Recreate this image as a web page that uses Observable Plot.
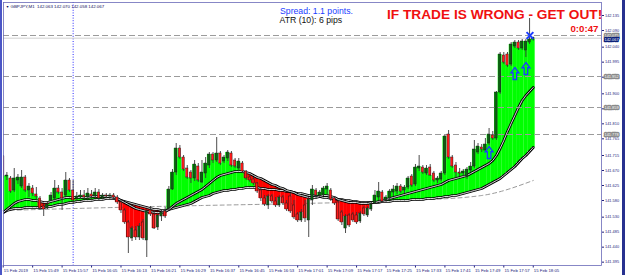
<!DOCTYPE html>
<html><head><meta charset="utf-8">
<script src="https://cdn.jsdelivr.net/npm/d3@7"></script>
<script src="https://cdn.jsdelivr.net/npm/@observablehq/plot@0.6"></script>
<style>
html,body{margin:0;padding:0;background:#fff;}
#wrap{position:relative;width:625px;height:275px;overflow:hidden;font-family:"Liberation Sans",Arial,sans-serif;}
#wrap svg{display:block;}
.bl{position:absolute;left:0;top:0;width:2px;height:275px;background:#4b56c6;}
.br{position:absolute;right:0;top:0;width:3px;height:275px;background:#27318f;}
</style></head><body><div id="wrap"><div class="bl"></div><div class="br"></div></div>
<script>
// ---- data (GBPJPY M1, 15 Feb 2019, 15:41 .. 18:05) ----
const opens = [
141.712,141.652,141.646,141.610,141.640,141.622,141.649,141.610,141.616,141.598,
141.586,141.562,141.556,141.580,141.586,141.616,141.604,141.595,141.640,141.610,
141.586,141.589,141.595,141.589,141.598,141.592,141.604,141.589,141.595,141.592,
141.595,141.589,141.574,141.550,141.514,141.466,141.490,141.469,141.514,141.460,
141.550,141.538,141.499,141.532,141.547,141.556,141.613,141.664,141.736,141.709,
141.676,141.664,141.646,141.682,141.634,141.661,141.685,141.718,141.700,141.721,
141.697,141.706,141.721,141.700,141.676,141.691,141.667,141.649,141.643,141.631,
141.610,141.586,141.565,141.592,141.577,141.565,141.589,141.571,141.592,141.565,
141.538,141.520,141.565,141.520,141.580,141.610,141.595,141.598,141.613,141.610,
141.586,141.574,141.544,141.496,141.535,141.538,141.535,141.517,141.556,141.535,
141.553,141.571,141.589,141.604,141.580,141.586,141.604,141.607,141.622,141.610,
141.619,141.652,141.628,141.676,141.679,141.661,141.679,141.661,141.640,141.643,
141.661,141.778,141.709,141.685,141.664,141.661,141.652,141.670,141.682,141.724,
141.739,141.730,141.751,141.775,141.766,141.904,142.015,142.018,141.988,142.042,
142.054,142.036,142.030,142.054,142.063];
const highs = [
141.715,141.664,141.652,141.676,141.658,141.670,141.655,141.631,141.625,141.619,
141.592,141.568,141.577,141.604,141.640,141.625,141.616,141.664,141.646,141.640,
141.604,141.610,141.610,141.616,141.610,141.616,141.613,141.601,141.601,141.601,
141.601,141.595,141.580,141.556,141.520,141.502,141.502,141.511,141.523,141.553,
141.562,141.550,141.541,141.553,141.559,141.622,141.673,141.751,141.745,141.715,
141.685,141.670,141.700,141.691,141.700,141.709,141.724,141.724,141.769,141.727,
141.715,141.730,141.727,141.706,141.706,141.697,141.670,141.658,141.649,141.634,
141.619,141.595,141.598,141.598,141.589,141.595,141.595,141.580,141.601,141.580,
141.544,141.553,141.580,141.589,141.625,141.616,141.610,141.622,141.631,141.616,
141.592,141.580,141.550,141.538,141.541,141.544,141.544,141.547,141.562,141.562,
141.574,141.610,141.634,141.610,141.595,141.613,141.625,141.631,141.628,141.625,
141.652,141.658,141.688,141.715,141.685,141.685,141.688,141.667,141.652,141.667,
141.775,141.790,141.715,141.694,141.676,141.673,141.679,141.694,141.760,141.751,
141.748,141.766,141.796,141.787,141.907,142.024,142.024,142.024,142.054,142.060,
142.060,142.063,142.063,142.126,142.070];
const lows = [
141.646,141.640,141.601,141.604,141.628,141.616,141.604,141.589,141.592,141.580,
141.550,141.532,141.553,141.577,141.580,141.598,141.550,141.592,141.604,141.568,
141.577,141.583,141.583,141.583,141.580,141.586,141.580,141.583,141.586,141.583,
141.583,141.568,141.541,141.508,141.421,141.457,141.460,141.460,141.460,141.409,
141.532,141.493,141.490,141.517,141.526,141.550,141.610,141.655,141.703,141.667,
141.643,141.631,141.637,141.634,141.631,141.646,141.676,141.691,141.694,141.685,
141.691,141.697,141.679,141.676,141.667,141.661,141.640,141.634,141.625,141.601,
141.577,141.562,141.553,141.571,141.559,141.559,141.565,141.547,141.541,141.523,
141.514,141.514,141.514,141.469,141.565,141.586,141.589,141.592,141.595,141.577,
141.565,141.517,141.505,141.481,141.499,141.514,141.508,141.511,141.532,141.529,
141.547,141.568,141.580,141.571,141.571,141.580,141.592,141.598,141.601,141.601,
141.613,141.619,141.622,141.667,141.658,141.655,141.652,141.634,141.631,141.637,
141.655,141.703,141.676,141.649,141.652,141.652,141.643,141.664,141.676,141.718,
141.724,141.724,141.745,141.760,141.760,141.898,141.988,141.979,141.982,142.036,
142.030,142.030,142.009,142.048,142.058];
const closes = [
141.652,141.655,141.607,141.646,141.649,141.649,141.610,141.622,141.601,141.592,
141.556,141.553,141.568,141.595,141.616,141.604,141.586,141.640,141.610,141.580,
141.592,141.595,141.589,141.601,141.592,141.604,141.586,141.595,141.592,141.595,
141.589,141.574,141.550,141.514,141.469,141.496,141.469,141.502,141.466,141.547,
141.538,141.496,141.535,141.544,141.532,141.613,141.664,141.736,141.709,141.673,
141.649,141.646,141.688,141.640,141.664,141.691,141.718,141.700,141.721,141.691,
141.709,141.724,141.685,141.682,141.697,141.667,141.646,141.640,141.631,141.607,
141.586,141.568,141.592,141.577,141.565,141.589,141.571,141.553,141.547,141.529,
141.520,141.544,141.526,141.583,141.613,141.595,141.604,141.616,141.622,141.583,
141.571,141.523,141.514,141.532,141.505,141.520,141.514,141.541,141.538,141.556,
141.568,141.595,141.607,141.577,141.589,141.607,141.613,141.622,141.607,141.619,
141.646,141.625,141.679,141.682,141.664,141.676,141.655,141.640,141.646,141.661,
141.772,141.709,141.682,141.664,141.661,141.667,141.673,141.682,141.733,141.742,
141.733,141.748,141.778,141.766,141.904,142.018,141.994,141.985,142.048,142.054,
142.036,142.057,142.057,142.063,142.067];
const fastMA = [
141.544,141.553,141.562,141.571,141.577,141.580,141.583,141.583,141.580,141.580,
141.577,141.574,141.574,141.577,141.580,141.583,141.586,141.589,141.589,141.589,
141.589,141.589,141.589,141.589,141.592,141.592,141.592,141.592,141.592,141.592,
141.589,141.586,141.580,141.574,141.568,141.562,141.556,141.553,141.550,141.547,
141.547,141.544,141.544,141.544,141.547,141.553,141.562,141.571,141.577,141.583,
141.589,141.595,141.601,141.607,141.613,141.622,141.631,141.640,141.649,141.655,
141.658,141.661,141.664,141.667,141.667,141.667,141.664,141.661,141.655,141.649,
141.646,141.640,141.634,141.628,141.625,141.619,141.616,141.610,141.607,141.604,
141.598,141.595,141.592,141.589,141.589,141.589,141.592,141.595,141.595,141.592,
141.589,141.583,141.580,141.577,141.574,141.574,141.574,141.571,141.571,141.571,
141.574,141.574,141.577,141.580,141.583,141.586,141.589,141.592,141.595,141.598,
141.601,141.604,141.607,141.610,141.613,141.616,141.619,141.622,141.625,141.628,
141.634,141.640,141.643,141.646,141.649,141.652,141.655,141.661,141.667,141.673,
141.679,141.685,141.691,141.700,141.715,141.736,141.760,141.787,141.811,141.835,
141.859,141.880,141.895,141.907,141.919];
const slowMA = [
141.544,141.550,141.553,141.556,141.556,141.556,141.559,141.559,141.559,141.559,
141.559,141.559,141.562,141.562,141.565,141.568,141.568,141.571,141.574,141.574,
141.577,141.577,141.580,141.580,141.580,141.583,141.583,141.583,141.586,141.586,
141.586,141.583,141.580,141.577,141.574,141.571,141.568,141.565,141.562,141.559,
141.556,141.553,141.553,141.550,141.550,141.553,141.556,141.559,141.562,141.565,
141.568,141.571,141.577,141.583,141.589,141.592,141.595,141.601,141.604,141.607,
141.610,141.610,141.613,141.613,141.616,141.616,141.619,141.619,141.619,141.619,
141.616,141.616,141.613,141.613,141.613,141.610,141.610,141.607,141.607,141.604,
141.601,141.601,141.598,141.595,141.595,141.592,141.592,141.589,141.589,141.586,
141.586,141.583,141.583,141.580,141.580,141.577,141.577,141.574,141.574,141.574,
141.574,141.574,141.574,141.577,141.577,141.577,141.580,141.580,141.580,141.580,
141.580,141.583,141.583,141.583,141.583,141.586,141.586,141.586,141.589,141.589,
141.592,141.592,141.595,141.595,141.598,141.601,141.604,141.607,141.610,141.613,
141.616,141.622,141.628,141.634,141.640,141.646,141.655,141.664,141.673,141.682,
141.694,141.706,141.715,141.727,141.739];
const longMABars = [0, 30, 54, 81, 110, 130, 144];
const longMAValues = [141.550, 141.559, 141.565, 141.571, 141.580, 141.595, 141.640];
const levels = [142.075, 141.952, 141.859, 141.778];
const bid = [142.067];
const crossBar = [19];
const arrowBars = [132, 139, 142];
const arrowPrices = [141.724, 141.961, 141.976];
const exitBar = [143.1];
const exitPrice = [142.075];
const priceTicks = [142.135,142.090,142.040,141.995,141.950,141.900,141.855,141.810,141.765,141.715,141.670,141.625,141.580,141.530,141.485,141.440,141.395];
const timeTickBars = [0,8,16,24,32,40,48,56,64,72,80,88,96,104,112,120,128,136,144];
const timeTickLabels = ["15 Feb 2019","15 Feb 15:49","15 Feb 15:57","15 Feb 16:05","15 Feb 16:13","15 Feb 16:21","15 Feb 16:29","15 Feb 16:37","15 Feb 16:45","15 Feb 16:53","15 Feb 17:01","15 Feb 17:09","15 Feb 17:17","15 Feb 17:25","15 Feb 17:33","15 Feb 17:41","15 Feb 17:49","15 Feb 17:57","15 Feb 18:05"];
const headerText = "GBPJPY,M1  142.063 142.070 142.058 142.067";
const spreadText = "Spread: 1.1 points.";
const atrText = "ATR (10): 6 pips";
const warnText = "IF TRADE IS WRONG - GET OUT!";
const timerText = "0:0:47";

// ---- build ----
const bars = opens.map((o, i) => ({i, open: o, high: highs[i], low: lows[i], close: closes[i], fast: fastMA[i], slow: slowMA[i]}));
const longMA = longMABars.map((b, k) => ({b, v: longMAValues[k]}));
const arrows = arrowBars.map((b, k) => ({b, p: arrowPrices[k]}));
const exits = exitBar.map((b, k) => ({b, p: exitPrice[k]}));
const GREEN = "#00ff00", RED = "#ff0000";
const fmt3 = d3.format(".3f");
const arrowUp = {draw(ctx, size) {
  const s = Math.sqrt(size / Math.PI);
  ctx.moveTo(0, -1.2 * s); ctx.lineTo(0.8 * s, -0.15 * s); ctx.lineTo(0.36 * s, -0.15 * s);
  ctx.lineTo(0.36 * s, 1.2 * s); ctx.lineTo(-0.36 * s, 1.2 * s); ctx.lineTo(-0.36 * s, -0.15 * s);
  ctx.lineTo(-0.8 * s, -0.15 * s); ctx.closePath();
}};
const NAVY = "#22227a";

const chart = Plot.plot({
  width: 625, height: 275,
  marginLeft: 3, marginRight: 24, marginTop: 2, marginBottom: 10,
  style: {fontFamily: "'Liberation Sans', Arial, sans-serif", fontSize: "3.9px", color: NAVY, background: "transparent"},
  color: {type: "identity"},
  x: {domain: [0.08, 162.54], axis: "bottom", ticks: timeTickBars, tickFormat: () => "", tickSize: 2.5, label: null},
  y: {domain: [141.385, 142.174], axis: "right", ticks: priceTicks, tickFormat: fmt3, tickSize: 2, tickPadding: 1.5, label: null},
  marks: [
    Plot.ruleX(crossBar, {x: d => d, stroke: "#2a2aff", strokeWidth: 1, strokeDasharray: "1,1.6"}),
    Plot.line(longMA, {x: "b", y: "v", stroke: "#9a9a9a", strokeWidth: 1, strokeDasharray: "4,3", curve: "monotone-x"}),
    Plot.rect(bars, {x1: d => d.i - 0.52, x2: d => d.i + 0.52, y1: "fast", y2: "slow", fill: d => d.fast >= d.slow ? GREEN : RED, clip: true}),
    Plot.rect(bars, {x1: d => d.i - 0.52, x2: d => d.i + 0.52, y1: "close", y2: "fast", fill: d => d.close >= d.fast ? GREEN : RED, clip: true}),
    Plot.line(bars, {x: "i", y: "slow", stroke: "#000", strokeWidth: 2.7, clip: true}),
    Plot.line(bars, {x: "i", y: "slow", stroke: "#eeeeee", strokeWidth: 0.9, clip: true}),
    Plot.line(bars, {x: "i", y: "fast", stroke: "#000", strokeWidth: 2.7, clip: true}),
    Plot.line(bars, {x: "i", y: "fast", stroke: "#eeeeee", strokeWidth: 0.9, clip: true}),
    Plot.ruleY(levels, {y: d => d, stroke: "#9b9b9b", strokeWidth: 1.1, strokeDasharray: "6,3"}),
    Plot.ruleY(bid, {y: d => d, stroke: "#cfcfcf", strokeWidth: 1}),
    Plot.ruleX(bars, {x: "i", y1: "low", y2: "high", stroke: "#3a3a3a", strokeWidth: 0.9, clip: true}),
    Plot.rect(bars, {x1: d => d.i - 0.32, x2: d => d.i + 0.32, y1: "open", y2: "close", fill: d => d.close >= d.open ? "#0e5e14" : "#ff1a1a", stroke: "#1a1a1a", strokeWidth: 0.45, clip: true}),
    Plot.dot(arrows, {x: "b", y: "p", symbol: arrowUp, r: 5, stroke: "#1c3cff", strokeWidth: 1.3, fill: "none"}),
    Plot.dot(exits, {x: "b", y: "p", symbol: "times", r: 3.2, stroke: "#1c3cff", strokeWidth: 2}),
    Plot.frame({stroke: "#6a6ab8", strokeWidth: 0.8}),
    // header texts
    Plot.text(["\u25BC"], {frameAnchor: "top-left", dx: 2.3, dy: 5.4, lineAnchor: "bottom", textAnchor: "start", fontSize: 3.6, fill: "#10105a"}),
    Plot.text([headerText], {frameAnchor: "top-left", dx: 7, dy: 5.6, lineAnchor: "bottom", textAnchor: "start", fontSize: 4.4, fill: "#10105a"}),
    Plot.text([spreadText], {frameAnchor: "top-left", dx: 276.5, dy: 11.5, lineAnchor: "bottom", textAnchor: "start", fontSize: 8.7, fill: "#1a3dff"}),
    Plot.text([atrText], {frameAnchor: "top-left", dx: 276, dy: 20.5, lineAnchor: "bottom", textAnchor: "start", fontSize: 8.7, fill: "#111"}),
    Plot.text([warnText], {frameAnchor: "top-right", dx: 0.7, dy: 16.3, lineAnchor: "bottom", textAnchor: "end", fontSize: 13.7, fontWeight: "bold", fill: "#f01010"}),
    Plot.text([timerText], {frameAnchor: "top-right", dx: -3, dy: 29, lineAnchor: "bottom", textAnchor: "end", fontSize: 9.7, fontWeight: "bold", fill: "#f01010"}),
    // time labels
    Plot.text(timeTickBars, {x: d => d, text: (d, i) => timeTickLabels[i], frameAnchor: "bottom", textAnchor: "start", lineAnchor: "bottom", dx: 0.6, dy: 6.2, fontSize: 4.3, fill: NAVY}),
    // price label boxes
    Plot.text(levels, {y: d => d, text: d => fmt3(d), frameAnchor: "right", textAnchor: "start", dx: 3, fontSize: 3.9, fill: "#ffffff", stroke: "#8a8a8a", strokeWidth: 2.4, strokeLinejoin: "round", paintOrder: "stroke"}),
    Plot.text(bid, {y: d => d, text: d => fmt3(d), frameAnchor: "right", textAnchor: "start", dx: 3, dy: 1.2, fontSize: 3.9, fill: "#ffffff", stroke: "#0b1f7a", strokeWidth: 2.4, strokeLinejoin: "round", paintOrder: "stroke"})
  ]
});
document.getElementById("wrap").prepend(chart);
</script></body></html>
